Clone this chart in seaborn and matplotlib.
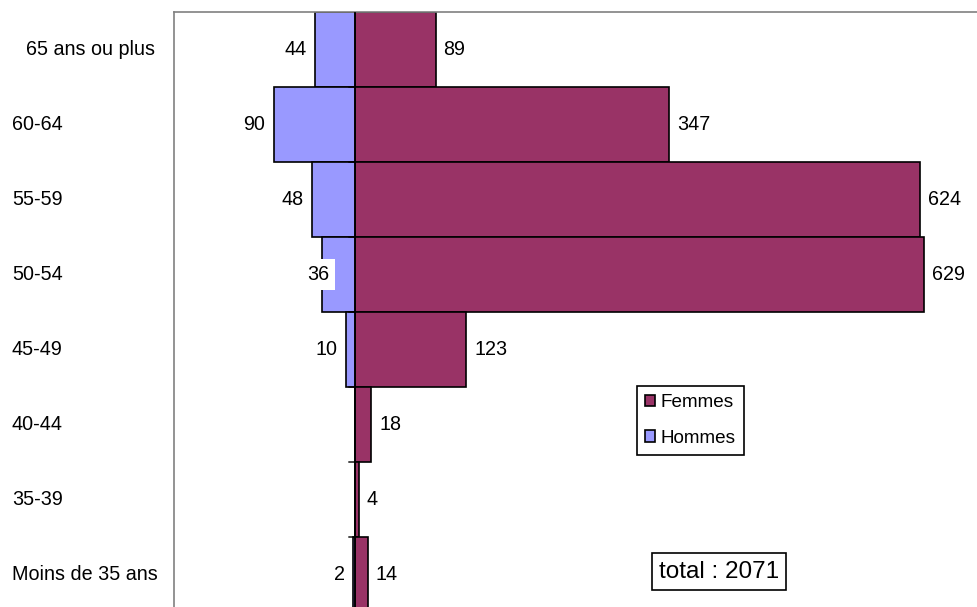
import matplotlib
matplotlib.use("Agg")
import matplotlib.pyplot as plt
import matplotlib.transforms as mtransforms
from matplotlib.patches import Rectangle
import seaborn as sns
import pandas as pd

categories = ["65 ans ou plus", "60-64", "55-59", "50-54", "45-49", "40-44", "35-39", "Moins de 35 ans"]
femmes = [89, 347, 624, 629, 123, 18, 4, 14]
hommes = [44, 90, 48, 36, 10, 0, 0, 2]
series_names = ["Femmes", "Hommes"]
total_text = "total : 2071"

COL_F = "#993366"
COL_H = "#9999FF"

sns.set_theme(style="white")
plt.rcParams["font.family"] = ["Liberation Sans", "DejaVu Sans"]
plt.rcParams["text.color"] = "black"
plt.rcParams["legend.labelcolor"] = "black"

W, H = 977, 607
fig = plt.figure(figsize=(W / 100, H / 100), dpi=100)
scale = 0.905  # px per unit
x0_px = 355
xmin, xmax = -200, 700
left_px = x0_px + xmin * scale
ax = fig.add_axes([left_px / W, (H - 612) / H, (xmax - xmin) * scale / W, 600 / H])

df = pd.DataFrame({"cat": categories, "Femmes": femmes, "Hommes": [-v for v in hommes]})

sns.barplot(data=df, x="Femmes", y="cat", orient="h", color=COL_F, width=1,
            edgecolor="black", linewidth=1.2, saturation=1, errorbar=None, ax=ax)
sns.barplot(data=df, x="Hommes", y="cat", orient="h", color=COL_H, width=1,
            edgecolor="black", linewidth=1.2, saturation=1, errorbar=None, ax=ax)

ax.set_xlim(xmin, xmax)
ax.set_ylim(len(categories) - 0.5, -0.5)
ax.set_xlabel("")
ax.set_ylabel("")
ax.set_xticks([])
ax.set_yticks([])

# plot-area border (grey) on left/top
for s in ["right", "bottom"]:
    ax.spines[s].set_visible(False)
ax.spines["top"].set_color("#808080")
ax.spines["top"].set_linewidth(1.2)
ax.spines["left"].set_color("#808080")
ax.spines["left"].set_linewidth(1.2)

# category axis at x=0 with tick marks between categories
for i in range(1, len(categories)):
    ax.annotate("", xy=(0, i - 0.5), xytext=(-4.5, 0), textcoords="offset points",
                arrowprops=dict(arrowstyle="-", color="black", lw=1.0, shrinkA=0, shrinkB=0))
ax.axvline(0, color="black", lw=1.2, zorder=3)

fs = 14.2
# value labels
cont_f = ax.containers[0]
cont_h = ax.containers[1]
ax.bar_label(cont_f, labels=[str(v) for v in femmes], padding=5.8, fontsize=fs, color="black")
hl = ax.bar_label(cont_h, labels=[str(v) if v > 0 else "" for v in hommes], padding=5.8,
                  fontsize=fs, color="black")
# the "36" label overlaps its bar on a white background
t36 = hl[3]
t36.xyann = (4.8, 0)
t36.set_bbox(dict(boxstyle="square,pad=0.3", facecolor="white", edgecolor="none"))
t36.set_zorder(5)

# category labels
tr = mtransforms.blended_transform_factory(fig.transFigure, ax.transData)
label_left_px = [26, 12, 12, 12, 12, 12, 12, 12]
for i, (c, lx) in enumerate(zip(categories, label_left_px)):
    fig.text(lx / W, i, c, transform=tr, ha="left", va="center", fontsize=fs, color="black")

# legend
handles = [Rectangle((0, 0), 1, 1, facecolor=COL_F, edgecolor="black", lw=1.2),
           Rectangle((0, 0), 1, 1, facecolor=COL_H, edgecolor="black", lw=1.2)]
leg = fig.legend(handles, series_names, loc="upper left",
                 bbox_to_anchor=(637 / W, 1 - 386 / H), borderaxespad=0,
                 fontsize=13.6, frameon=True, fancybox=False, framealpha=1,
                 edgecolor="black", handlelength=0.55, handleheight=0.55,
                 handletextpad=0.3, labelspacing=1.0, borderpad=0.45, borderaxespad_=None) if False else \
      fig.legend(handles, series_names, loc="upper left",
                 bbox_to_anchor=(637 / W, 1 - 386 / H), borderaxespad=0,
                 fontsize=13.6, frameon=True, fancybox=False, framealpha=1,
                 edgecolor="black", handlelength=0.55, handleheight=0.55,
                 handletextpad=0.3, labelspacing=1.0, borderpad=0.42)
leg.get_frame().set_linewidth(1.2)
for t in leg.get_texts():
    t.set_color("black")

# total box
fig.text(719 / W, 1 - 571.5 / H, total_text, ha="center", va="center", fontsize=17.5,
         color="black",
         bbox=dict(boxstyle="square,pad=0.3", facecolor="white", edgecolor="black", lw=1.2))

fig.savefig("out.png", dpi=100)
